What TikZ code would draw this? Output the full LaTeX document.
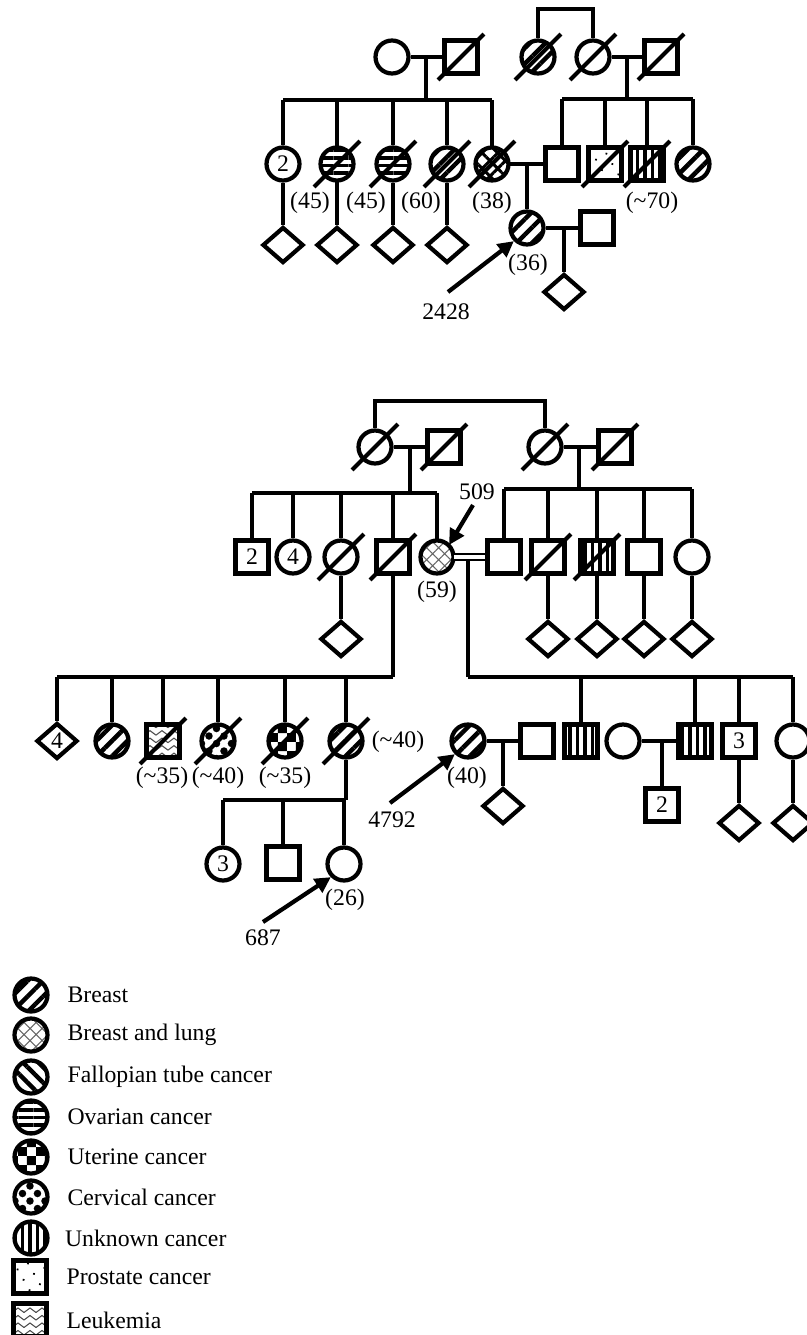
\documentclass[tikz,border=0pt]{standalone}
\usepackage{fontspec}
\setmainfont{Liberation Serif}
\usetikzlibrary{arrows.meta, shapes.geometric, patterns.meta, positioning}

\tikzdeclarepattern{
  name=checks, type=uncolored,
  bounding box={(0,0) and (.36cm,.36cm)},
  tile size={(.36cm,.36cm)},
  code={\fill (0,0) rectangle (.18cm,.18cm); \fill (.18cm,.18cm) rectangle (.36cm,.36cm);}
}
\tikzdeclarepattern{
  name=zigzag, type=uncolored,
  bounding box={(0,-.02cm) and (.24cm,.12cm)},
  tile size={(.24cm,.15cm)},
  code={\draw[line width=.6pt] (0,0) -- (.12cm,.09cm) -- (.24cm,0);}
}
\tikzdeclarepattern{
  name=blobs, type=uncolored,
  bounding box={(0,0) and (.3cm,.3cm)},
  tile size={(.3cm,.3cm)},
  code={\fill (.15cm,.15cm) circle (.075cm); \fill (0,0) circle (.075cm); \fill (.3cm,0) circle (.075cm);
        \fill (0,.3cm) circle (.075cm); \fill (.3cm,.3cm) circle (.075cm);}
}

\begin{document}
\begin{tikzpicture}[
  x=0.02cm, y=-0.02cm, line width=2.4pt,
  font=\fontsize{13.5}{15}\selectfont,
  fem/.style={circle, draw, minimum size=0.66cm, inner sep=0pt},
  male/.style={rectangle, draw, minimum size=0.66cm, inner sep=0pt},
  unkn/.style={diamond, draw, minimum width=0.82cm, minimum height=0.72cm, inner sep=0pt},
  dead/.style={append after command={(\tikzlastnode.center) ++(-0.46cm,-0.46cm) edge ++(0.92cm,0.92cm)}},
  breast/.style={pattern={Lines[angle=45,distance=0.22cm,line width=0.09cm]}},
  fallop/.style={pattern={Lines[angle=-45,distance=0.22cm,line width=0.09cm]}},
  ovarian/.style={pattern={Lines[angle=0,distance=0.15cm,line width=0.07cm]}},
  unknown/.style={pattern={Lines[angle=90,distance=0.15cm,line width=0.07cm]}},
  brfall/.style={pattern={Hatch[angle=45,distance=0.22cm,line width=0.06cm]}},
  brlung/.style={pattern={Hatch[angle=45,distance=0.17cm,line width=0.6pt]}, pattern color=black!60},
  uterine/.style={pattern=checks},
  cervical/.style={pattern=blobs},
  prostate/.style={pattern={Dots[radius=0.025cm,distance=0.24cm,angle=30]}},
  leuk/.style={pattern=zigzag, pattern color=black!70},
  age/.style={inner sep=1pt},
  arr/.style={-{Triangle[length=9pt,width=9pt]}, line width=2.4pt}
]
  \useasboundingbox (0,0) rectangle (806,1335);

  % upper family
  \node[fem] (a1) at (392,57) {};
  \node[male, dead] (a2) at (461,57) {};
  \node[fem, dead, breast] (b1) at (538,57) {};
  \node[fem, dead] (b2) at (593,57) {};
  \node[male, dead] (b3) at (661,57) {};
  \coordinate (tb) at (565,9);
  \coordinate (m1) at (426,57);
  \coordinate (s1) at (426,100);
  \coordinate (m2) at (627,57);
  \coordinate (s2) at (627,99);

  \node[fem] (c1) at (283,164) {2};
  \node[fem, dead, ovarian] (c2) at (337,164) {};
  \node[fem, dead, ovarian] (c3) at (393,164) {};
  \node[fem, dead, breast] (c4) at (447,164) {};
  \node[fem, dead, brfall] (c5) at (492,164) {};
  \node[male] (d1) at (562,164) {};
  \node[male, dead, prostate] (d2) at (605,164) {};
  \node[male, dead, unknown] (d3) at (647,164) {};
  \node[fem, breast] (d4) at (693,164) {};
  \coordinate (m3) at (527,164);

  \node[fem, breast] (e1) at (527,228) {};
  \node[male] (e2) at (597,228) {};
  \coordinate (m4) at (564,228);
  \node[unkn] (f1) at (564,292) {};
  \node[unkn] (f2) at (283,245) {};
  \node[unkn] (f3) at (337,245) {};
  \node[unkn] (f4) at (393,245) {};
  \node[unkn] (f5) at (447,245) {};

  \node[age] (ac2) at (310,203) {(45)};
  \node[age] (ac3) at (366,203) {(45)};
  \node[age] (ac4) at (421,203) {(60)};
  \node[age] (ac5) at (492,203) {(38)};
  \node[age] (ad3) at (652,203) {(\textasciitilde70)};
  \node[age] (ae1) at (528,265) {(36)};
  \node (p2428) at (446,312) {2428};
  \coordinate (q2428) at (448,292);

  \draw (b1.north) |- (tb) -| (b2.north);
  \draw (a1) -- (a2);
  \draw (b2) -- (b3);
  \draw (m1) -- (s1);
  \draw (m2) -- (s2);
  \draw (c1 |- s1) -- (c5 |- s1);
  \draw (d1 |- s2) -- (d4 |- s2);
  \draw (c1) -- (c1 |- s1) (c2) -- (c2 |- s1) (c3) -- (c3 |- s1) (c4) -- (c4 |- s1) (c5) -- (c5 |- s1);
  \draw (d1) -- (d1 |- s2) (d2) -- (d2 |- s2) (d3) -- (d3 |- s2) (d4) -- (d4 |- s2);
  \draw (c1) -- (f2) (c2) -- (f3) (c3) -- (f4) (c4) -- (f5);
  \draw (c5) -- (d1);
  \draw (m3) -- (e1);
  \draw (e1) -- (e2);
  \draw (m4) -- (f1);
  \draw[arr] (q2428) -- (e1.south west);

  % lower family
  \node[fem, dead] (g1) at (375,447) {};
  \node[male, dead] (g2) at (444,447) {};
  \node[fem, dead] (g3) at (545,447) {};
  \node[male, dead] (g4) at (615,447) {};
  \coordinate (tg) at (460,401);
  \coordinate (m5) at (410,447);
  \coordinate (s5) at (410,493);
  \coordinate (m6) at (579,447);
  \coordinate (s6) at (579,489);

  \node[male] (h1) at (252,557) {2};
  \node[fem] (h2) at (293,557) {4};
  \node[fem, dead] (h3) at (341,557) {};
  \node[male, dead] (h4) at (393,557) {};
  \node[fem, brlung] (h5) at (437,557) {};
  \node[unkn] (h6) at (341,639) {};
  \node[age] (ah5) at (437,592) {(59)};
  \node (p509) at (477,492) {509};
  \coordinate (q509) at (473,505);

  \node[male] (i1) at (504,557) {};
  \node[male, dead] (i2) at (548,557) {};
  \node[male, dead, unknown] (i3) at (597,557) {};
  \node[male] (i4) at (644,557) {};
  \node[fem] (i5) at (692,557) {};
  \node[unkn] (i6) at (548,639) {};
  \node[unkn] (i7) at (597,639) {};
  \node[unkn] (i8) at (644,639) {};
  \node[unkn] (i9) at (692,639) {};
  \coordinate (m7) at (468,557);
  \coordinate (s7) at (393,677);
  \coordinate (s8) at (468,677);

  \node[unkn] (j1) at (57,741) {4};
  \node[fem, breast] (j2) at (112,741) {};
  \node[male, dead, leuk] (j3) at (163,741) {};
  \node[fem, dead, cervical] (j4) at (218,741) {};
  \node[fem, dead, uterine] (j5) at (285,741) {};
  \node[fem, dead, breast] (j6) at (346,741) {};
  \node[age] (aj3) at (162,778) {(\textasciitilde35)};
  \node[age] (aj4) at (218,778) {(\textasciitilde40)};
  \node[age] (aj5) at (285,778) {(\textasciitilde35)};
  \node[age] (aj6) at (398,742) {(\textasciitilde40)};
  \coordinate (s9) at (346,800);

  \node[fem, breast] (k1) at (468,741) {};
  \node[male] (k2) at (537,741) {};
  \node[male, unknown] (k4) at (581,741) {};
  \node[fem] (k5) at (623,741) {};
  \node[male, unknown] (k6) at (695,741) {};
  \node[male] (k8) at (739,741) {3};
  \node[fem] (k10) at (793,741) {};
  \coordinate (m8) at (503,741);
  \coordinate (m9) at (662,741);
  \node[unkn] (k3) at (503,806) {};
  \node[male] (k7) at (662,805) {2};
  \node[unkn] (k9) at (739,823) {};
  \node[unkn] (k11) at (793,823) {};
  \node[age] (ak1) at (467,778) {(40)};
  \node (p4792) at (392,820) {4792};
  \coordinate (q4792) at (390,803);

  \node[fem] (l1) at (223,864) {3};
  \node[male] (l2) at (283,863) {};
  \node[fem] (l3) at (344,864) {};
  \node[age] (al3) at (345,900) {(26)};
  \node (p687) at (263,938) {687};
  \coordinate (q687) at (263,922);

  \draw (g1.north) |- (tg) -| (g3.north);
  \draw (g1) -- (g2);
  \draw (g3) -- (g4);
  \draw (m5) -- (s5);
  \draw (m6) -- (s6);
  \draw (h1 |- s5) -- (h5 |- s5);
  \draw (i1 |- s6) -- (i5 |- s6);
  \draw (h1) -- (h1 |- s5) (h2) -- (h2 |- s5) (h3) -- (h3 |- s5) (h4) -- (h4 |- s5) (h5) -- (h5 |- s5);
  \draw (i1) -- (i1 |- s6) (i2) -- (i2 |- s6) (i3) -- (i3 |- s6) (i4) -- (i4 |- s6) (i5) -- (i5 |- s6);
  \draw (h3) -- (h6);
  \draw (i2) -- (i6) (i3) -- (i7) (i4) -- (i8) (i5) -- (i9);
  \draw (h4) -- (s7);
  \draw (j1 |- s7) -- (s7);
  \draw (j1) -- (j1 |- s7) (j2) -- (j2 |- s7) (j3) -- (j3 |- s7) (j4) -- (j4 |- s7) (j5) -- (j5 |- s7) (j6) -- (j6 |- s7);
  \draw (m7) -- (s8);
  \draw[line width=1.2pt, double, double distance=2.2pt] (h5) -- (i1);
  \draw (s8) -- (k10 |- s8);
  \draw (k4) -- (k4 |- s8) (k6) -- (k6 |- s8) (k8) -- (k8 |- s8) (k10) -- (k10 |- s8);
  \draw (k1) -- (k2);
  \draw (m8) -- (k3);
  \draw (k5) -- (k6);
  \draw (m9) -- (k7);
  \draw (k8) -- (k9);
  \draw (k10) -- (k11);
  \draw (j6) -- (s9);
  \draw (l1 |- s9) -- (s9);
  \draw (l1) -- (l1 |- s9) (l2) -- (l2 |- s9) (l3) -- (l3 |- s9);
  \draw[arr] (q509) -- (h5.north east);
  \draw[arr] (q4792) -- (k1.south west);
  \draw[arr] (q687) -- (l3.south west);

  % legend
  \node[fem, breast] (lg1) at (31,995) {};
  \node[fem, brlung] (lg2) at (31,1035) {};
  \node[fem, fallop] (lg3) at (31,1077) {};
  \node[fem, ovarian] (lg4) at (31,1117) {};
  \node[fem, uterine] (lg5) at (31,1157) {};
  \node[fem, cervical] (lg6) at (31,1197) {};
  \node[fem, unknown] (lg7) at (31,1238) {};
  \node[male, prostate] (lg8) at (30,1277) {};
  \node[male, leuk] (lg9) at (30,1320) {};
  \node[right=0.2cm of lg1] (lt1) {Breast};
  \node[right=0.2cm of lg2] (lt2) {Breast and lung};
  \node[right=0.2cm of lg3] (lt3) {Fallopian tube cancer};
  \node[right=0.2cm of lg4] (lt4) {Ovarian cancer};
  \node[right=0.2cm of lg5] (lt5) {Uterine cancer};
  \node[right=0.2cm of lg6] (lt6) {Cervical cancer};
  \node[right=0.15cm of lg7] (lt7) {Unknown cancer};
  \node[right=0.2cm of lg8] (lt8) {Prostate cancer};
  \node[right=0.2cm of lg9] (lt9) {Leukemia};
\end{tikzpicture}
\end{document}
